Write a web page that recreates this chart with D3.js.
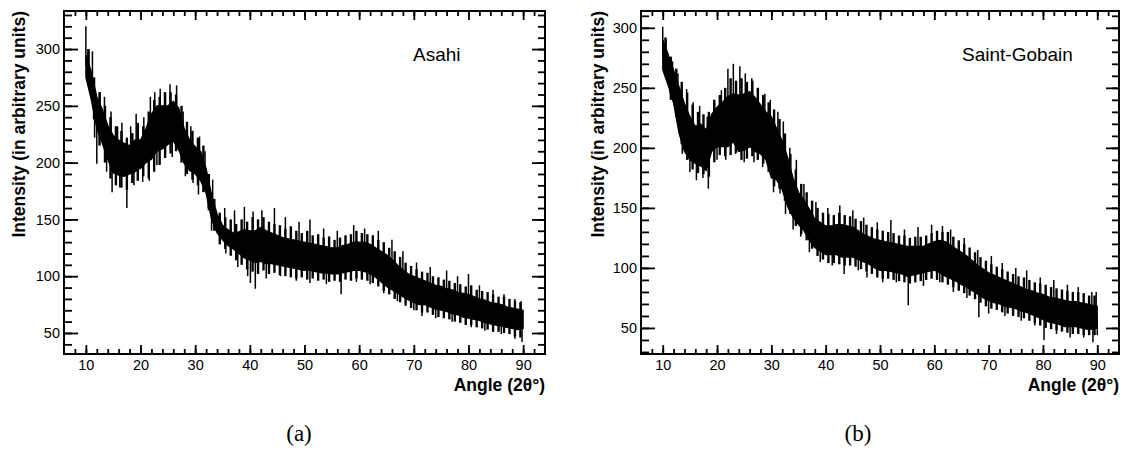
<!DOCTYPE html>
<html>
<head>
<meta charset="utf-8">
<script src="https://cdnjs.cloudflare.com/ajax/libs/d3/7.8.5/d3.min.js"></script>
<style>
  body { margin: 0; background: #fff; }
  svg { display: block; }
  .axis text { font-family: "Liberation Sans", Arial, sans-serif; font-size: 14.5px; fill: #000; }
  .axis line { stroke: #000; stroke-width: 1.8; }
  .axis path { display: none; }
  .title { font-family: "Liberation Sans", Arial, sans-serif; font-weight: bold; font-size: 17.5px; }
  .label { font-family: "Liberation Sans", Arial, sans-serif; font-size: 19px; }
  .caption { font-family: "Liberation Serif", "Times New Roman", serif; font-size: 23px; }
</style>
</head>
<body>
<svg id="chart" width="1128" height="455"></svg>
<script>
/* global d3 */

// angle bins (2theta, degrees): whole degrees for the band, half degrees for the ragged edge
var angles = d3.range(10, 91);
var halfAngles = d3.range(10.5, 90, 1);
var xTicks = [10, 20, 30, 40, 50, 60, 70, 80, 90];
var yTicks = [50, 100, 150, 200, 250, 300];

// upper / lower edge of the dense part of the trace
var asahiHi = [295, 280, 258, 247, 233, 224, 220, 217, 215, 220, 220, 230, 243, 250, 250, 250, 254, 248, 230, 220,
  214, 210, 195, 172, 155, 145, 141, 138, 139, 141, 140, 140, 143, 140, 138, 136, 134, 133, 132, 131,
  130, 129, 128, 127, 126, 125, 125, 127, 128, 130, 130, 130, 128, 125, 122, 119, 115, 110, 106, 102,
  100, 98, 96, 94, 92, 91, 89, 88, 86, 85, 84, 82, 80, 79, 77, 76, 75, 73, 72, 71, 70];
var asahiLo = [275, 255, 230, 217, 203, 191, 189, 188, 190, 192, 195, 200, 203, 210, 212, 216, 219, 211, 199, 193,
  190, 184, 173, 150, 138, 132, 127, 124, 120, 116, 114, 112, 113, 111, 111, 110, 109, 108, 107, 106,
  105, 105, 104, 103, 103, 102, 102, 103, 104, 105, 105, 104, 102, 99, 95, 91, 88, 85, 82, 79,
  77, 75, 75, 73, 71, 70, 69, 67, 66, 64, 63, 62, 61, 59, 58, 57, 56, 55, 54, 53, 54];
var gobainHi = [290, 278, 265, 251, 237, 226, 218, 220, 215, 228, 234, 238, 243, 245, 244, 245, 247, 242, 236, 230,
  226, 216, 206, 192, 175, 163, 157, 149, 141, 138, 135, 135, 136, 136, 135, 134, 131, 128, 126, 124,
  123, 122, 121, 120, 119, 118, 118, 118, 118, 120, 122, 123, 122, 119, 116, 113, 110, 106, 102, 99,
  96, 94, 92, 90, 88, 86, 84, 82, 81, 79, 78, 76, 75, 74, 73, 72, 72, 71, 70, 69, 68];
var gobainLo = [265, 252, 237, 212, 197, 190, 187, 185, 181, 197, 201, 201, 201, 205, 197, 198, 201, 197, 195, 190,
  175, 173, 165, 151, 142, 136, 131, 123, 117, 114, 111, 111, 111, 109, 109, 109, 107, 105, 103, 100,
  98, 98, 97, 96, 95, 93, 94, 95, 96, 97, 98, 96, 93, 91, 89, 86, 84, 81, 78, 75,
  73, 71, 70, 68, 67, 66, 64, 63, 61, 59, 57, 55, 54, 53, 51, 51, 51, 50, 49, 49, 50];

// highest / lowest count inside each half-degree step (10.5 ... 89.5)
var asahiPeaks = [300, 275, 262, 250, 240, 232, 228, 222, 226, 235, 232, 245, 255, 258, 262, 262, 260, 250, 236, 228,
  222, 215, 190, 168, 156, 152, 150, 146, 150, 148, 152, 150, 152, 148, 146, 145, 142, 144, 140, 138,
  140, 136, 137, 134, 135, 132, 134, 136, 137, 140, 138, 137, 136, 132, 130, 125, 122, 117, 112, 109,
  106, 104, 103, 100, 99, 97, 96, 94, 93, 91, 92, 88, 87, 86, 84, 82, 82, 80, 78, 77];
var asahiDips = [268, 238, 215, 200, 186, 180, 178, 176, 182, 184, 188, 186, 192, 198, 204, 208, 210, 200, 190, 185,
  180, 174, 158, 140, 128, 124, 118, 114, 110, 106, 104, 102, 105, 102, 103, 101, 100, 99, 98, 99,
  97, 98, 96, 97, 95, 96, 95, 97, 96, 98, 97, 96, 94, 91, 87, 84, 80, 77, 74, 72,
  70, 68, 68, 66, 64, 63, 62, 60, 59, 57, 57, 55, 54, 53, 51, 51, 50, 49, 47, 46];
var gobainPeaks = [292, 276, 266, 255, 246, 236, 230, 228, 230, 240, 244, 250, 258, 256, 258, 255, 256, 250, 244, 238,
  232, 224, 212, 195, 182, 170, 163, 156, 150, 146, 145, 144, 146, 144, 143, 141, 139, 136, 134, 132,
  131, 130, 129, 127, 127, 125, 126, 126, 127, 129, 131, 130, 130, 126, 123, 120, 117, 113, 109, 106,
  103, 101, 99, 97, 95, 93, 92, 90, 88, 87, 86, 84, 83, 82, 81, 80, 80, 79, 77, 77];
var gobainDips = [260, 240, 226, 203, 190, 182, 179, 178, 176, 188, 194, 193, 194, 196, 190, 191, 193, 190, 187, 180,
  168, 166, 156, 145, 135, 128, 123, 116, 110, 107, 104, 104, 103, 102, 102, 101, 99, 97, 95, 92,
  91, 91, 90, 89, 88, 87, 88, 89, 90, 91, 90, 88, 86, 84, 81, 79, 77, 74, 71, 68,
  66, 65, 63, 62, 60, 59, 58, 56, 54, 52, 50, 49, 48, 47, 46, 45, 45, 44, 44, 44];

// single spikes sticking out of the band: [angle, intensity]
var asahiSpikes = [[10, 320], [10.4, 300], [11.2, 298], [12.6, 262], [13.4, 258], [14.6, 245], [15.8, 232], [16.6, 235],
  [18.2, 232], [19.2, 243], [20.6, 240], [21.8, 258], [22.6, 262], [23.6, 265], [24.4, 262], [25.4, 269], [26.6, 268],
  [27.8, 245], [29.2, 232], [30.8, 223], [31.8, 210], [33.2, 185], [35.4, 160], [37.2, 158], [39, 161], [40.6, 157],
  [42.2, 158], [44.5, 160], [46.5, 152], [49, 148], [51, 150], [53.5, 142], [56, 140], [59, 145], [61, 142], [63.5, 140],
  [66, 132], [68, 122], [70.5, 112], [73, 108], [76, 105], [78, 100], [80, 102], [82, 92], [84.5, 88], [86.5, 84],
  [88.5, 80], [89.6, 78],
  [11.6, 222], [12, 199], [13.8, 192], [14.8, 174], [16.2, 178], [17.5, 160], [18.8, 180], [20.4, 183], [21.6, 184],
  [23, 198], [25.8, 205], [28.2, 188], [29.6, 182], [30.6, 172], [32.4, 160], [33, 140], [35.6, 120], [37.8, 108],
  [39.6, 100], [40.1, 94], [41, 89], [43, 98], [45.6, 100], [48.5, 96], [51, 94], [54, 93], [56.7, 84], [59.5, 95],
  [62, 93], [64.5, 85], [67, 78], [70, 70], [71.5, 65], [74, 63], [77, 60], [80.5, 55], [83, 52], [86, 49], [88.5, 45],
  [89.8, 42]];
var gobainSpikes = [[10, 301], [10.6, 290], [11.8, 272], [12.8, 262], [14.4, 249], [15.6, 238], [16.8, 235], [18.2, 226],
  [19.4, 240], [20.8, 248], [22, 266], [23, 270], [24.2, 268], [25.2, 262], [26.4, 258], [27.6, 250], [28.8, 245],
  [29.8, 240], [31.2, 230], [32.2, 222], [33.4, 200], [34.6, 190], [36, 170], [38.2, 155], [40.4, 150], [42.6, 152],
  [45, 148], [47, 142], [49.5, 138], [52, 140], [54.5, 132], [57, 134], [59.5, 136], [61.5, 135], [63, 132], [65.5, 125],
  [68, 115], [70.5, 110], [72.5, 104], [75, 100], [77, 98], [79.5, 92], [82, 90], [84.5, 86], [86.5, 84], [89, 80],
  [89.8, 80],
  [11.4, 245], [12.6, 225], [13.6, 195], [15, 180], [16.2, 173], [17.4, 175], [18.4, 166], [20, 190], [21.6, 190],
  [23.4, 195], [25, 188], [26.8, 188], [28.4, 184], [30.4, 163], [31.6, 162], [32.6, 145], [34, 132], [35.4, 126],
  [37, 113], [39, 105], [41.2, 102], [43.4, 95], [46, 98], [47.6, 92], [50.5, 88], [53, 88], [55.2, 69], [58, 85],
  [61, 88], [63.5, 80], [66, 75], [68.2, 59], [70, 62], [73, 60], [76, 56], [78.5, 52], [80.2, 40], [82.5, 45],
  [85, 42], [87.5, 42], [89.2, 38], [90, 44]];

var svg = d3.select("#chart");

function spectrum (left, right, top, bottom, yDomain, hi, lo, peaks, dips, spikes, name, nameX, titleX, caption, captionX) {
  var x = d3.scaleLinear().domain([6, 94]).range([left, right]),
    y = d3.scaleLinear().domain(yDomain).range([bottom, top]),
    g = svg.append("g");

  var mid = d3.scaleLinear()
    .domain(angles)
    .range(angles.map(function (d, i) { return (hi[i] + lo[i]) / 2; }));

  // the dense band
  g.append("path")
    .datum(angles)
    .attr("d", d3.area()
      .x(function (d) { return x(d); })
      .y0(function (d, i) { return y(lo[i]); })
      .y1(function (d, i) { return y(hi[i]); }))
    .attr("fill", "#000")
    .attr("stroke", "#000")
    .attr("stroke-width", 1.2);

  // min-max range of every half-degree step
  g.selectAll(".range")
    .data(halfAngles)
    .enter().append("line")
    .attr("class", "range")
    .attr("x1", function (d) { return x(d); })
    .attr("x2", function (d) { return x(d); })
    .attr("y1", function (d, i) { return y(dips[i]); })
    .attr("y2", function (d, i) { return y(peaks[i]); })
    .attr("stroke", "#000")
    .attr("stroke-width", 2.4);

  g.selectAll(".spike")
    .data(spikes)
    .enter().append("line")
    .attr("class", "spike")
    .attr("x1", function (d) { return x(d[0]); })
    .attr("x2", function (d) { return x(d[0]); })
    .attr("y1", function (d) { return y(mid(d[0])); })
    .attr("y2", function (d) { return y(d[1]); })
    .attr("stroke", "#000")
    .attr("stroke-width", 1.5);

  // ticks on all four sides, pointing inwards
  var minorX = d3.range(8, 93, 2),
    minorY = d3.range(Math.ceil(yDomain[0] / 10) * 10, yDomain[1], 10);

  g.append("g").attr("class", "axis")
    .attr("transform", "translate(0," + bottom + ")")
    .call(d3.axisBottom(x).tickValues(xTicks).tickSize(-9).tickPadding(6));
  g.append("g").attr("class", "axis")
    .attr("transform", "translate(0," + bottom + ")")
    .call(d3.axisBottom(x).tickValues(minorX).tickSize(-5).tickFormat(""));
  g.append("g").attr("class", "axis")
    .attr("transform", "translate(0," + top + ")")
    .call(d3.axisTop(x).tickValues(xTicks).tickSize(-9).tickFormat(""));
  g.append("g").attr("class", "axis")
    .attr("transform", "translate(0," + top + ")")
    .call(d3.axisTop(x).tickValues(minorX).tickSize(-5).tickFormat(""));

  g.append("g").attr("class", "axis")
    .attr("transform", "translate(" + left + ",0)")
    .call(d3.axisLeft(y).tickValues(yTicks).tickSize(-14).tickPadding(4));
  g.append("g").attr("class", "axis")
    .attr("transform", "translate(" + left + ",0)")
    .call(d3.axisLeft(y).tickValues(minorY).tickSize(-8).tickFormat(""));
  g.append("g").attr("class", "axis")
    .attr("transform", "translate(" + right + ",0)")
    .call(d3.axisRight(y).tickValues(yTicks).tickSize(-13).tickFormat(""));
  g.append("g").attr("class", "axis")
    .attr("transform", "translate(" + right + ",0)")
    .call(d3.axisRight(y).tickValues(minorY).tickSize(-7).tickFormat(""));

  g.append("rect")
    .attr("x", left).attr("y", top)
    .attr("width", right - left).attr("height", bottom - top)
    .attr("fill", "none")
    .attr("stroke", "#000")
    .attr("stroke-width", 2);

  g.append("text")
    .attr("class", "title")
    .attr("text-anchor", "end")
    .attr("transform", "translate(" + titleX + "," + top + ") rotate(-90)")
    .text("Intensity (in arbitrary units)");

  g.append("text")
    .attr("class", "title")
    .attr("text-anchor", "end")
    .attr("x", right)
    .attr("y", 391)
    .text("Angle (2θ°)");

  g.append("text")
    .attr("class", "label")
    .attr("x", nameX)
    .attr("y", 61)
    .text(name);

  g.append("text")
    .attr("class", "caption")
    .attr("text-anchor", "middle")
    .attr("x", captionX)
    .attr("y", 441)
    .text(caption);
}

spectrum(64, 545, 11, 354, [31.5, 333.5], asahiHi, asahiLo, asahiPeaks, asahiDips, asahiSpikes,
  "Asahi", 413, 25, "(a)", 299);
spectrum(641, 1119, 11, 354, [28.3, 314], gobainHi, gobainLo, gobainPeaks, gobainDips, gobainSpikes,
  "Saint-Gobain", 962, 604, "(b)", 858);
</script>
</body>
</html>
